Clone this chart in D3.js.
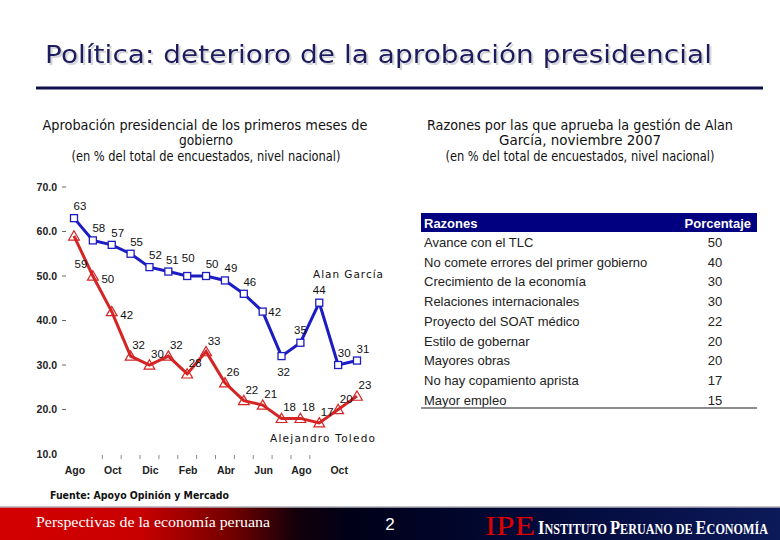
<!DOCTYPE html>
<html><head><meta charset="utf-8">
<script src="https://cdn.jsdelivr.net/npm/d3@7"></script>
<style>html,body{margin:0;padding:0;background:#fff;}svg{display:block;}</style>
</head><body>
<svg id="c" width="780" height="540"></svg>
<script>
// ---- data ----
const months = ["Ago","Sep","Oct","Nov","Dic","Ene","Feb","Mar","Abr","May","Jun","Jul","Ago","Sep","Oct","Nov"];
const monthTickLabels = ["Ago","Oct","Dic","Feb","Abr","Jun","Ago","Oct"];
const garcia = [63,58,57,55,52,51,50,50,49,46,42,32,35,44,30,31];
const toledo = [59,50,42,32,30,32,28,33,26,22,21,18,18,17,20,23];
const yTicks = [10,20,30,40,50,60,70];
const razones = ["Avance con el TLC","No comete errores del primer gobierno","Crecimiento de la economía","Relaciones internacionales","Proyecto del SOAT médico","Estilo de gobernar","Mayores obras","No hay copamiento aprista","Mayor empleo"];
const porcentaje = [50,40,30,30,22,20,20,17,15];

const svg = d3.select("#c");
const defs = svg.append("defs");
const navy = "#1a1a5e";

// title shadow filter
const f = defs.append("filter").attr("id","sh").attr("x","-5%").attr("y","-30%").attr("width","110%").attr("height","160%");
f.append("feOffset").attr("in","SourceAlpha").attr("dx",1.5).attr("dy",1.5).attr("result","o");
f.append("feFlood").attr("flood-color","#b8b8c4").attr("flood-opacity",0.6).attr("result","c");
f.append("feComposite").attr("in","c").attr("in2","o").attr("operator","in").attr("result","s");
const fm = f.append("feMerge"); fm.append("feMergeNode").attr("in","s"); fm.append("feMergeNode").attr("in","SourceGraphic");

// ---- title ----
svg.append("text").attr("x",45).attr("y",63).attr("font-family","Tahoma, 'DejaVu Sans', sans-serif")
  .attr("font-size",25).attr("fill",navy).attr("textLength",667).attr("lengthAdjust","spacingAndGlyphs")
  .attr("filter","url(#sh)").text("Política: deterioro de la aprobación presidencial");
svg.append("line").attr("x1",36).attr("x2",763).attr("y1",88).attr("y2",88).attr("stroke","#0f0f4a").attr("stroke-width",3);

// ---- subtitles ----
const narrow = "'Liberation Sans Narrow','Arial Narrow','DejaVu Sans Condensed',sans-serif";
function sub(x, y, t, w){
  const e = svg.append("text").attr("x",x).attr("y",y).attr("text-anchor","middle")
    .attr("font-family",narrow).attr("font-size",13.5).attr("fill","#111").text(t);
  if (w) e.attr("textLength",w).attr("lengthAdjust","spacingAndGlyphs");
}
sub(205,130,"Aprobación presidencial de los primeros meses de",325);
sub(206,145,"gobierno",54);
sub(206,161,"(en % del total de encuestados, nivel nacional)",269);
sub(580,130,"Razones por las que aprueba la gestión de Alan",306);
sub(580,145,"García, noviembre 2007",162);
sub(580,161,"(en % del total de encuestados, nivel nacional)",269);

// ---- line chart ----
const x = d3.scaleLinear().domain([0, months.length-1]).range([74, 357]);
const y = d3.scaleLinear().domain([10,70]).range([454,187]);
const g = svg.append("g");

yTicks.forEach(v=>{
  g.append("text").attr("x",57).attr("y",y(v)+3.5).attr("text-anchor","end")
   .attr("font-family","'Liberation Sans',Arial,sans-serif").attr("font-weight","bold").attr("font-size",10.5)
   .attr("fill","#222").text(v.toFixed(1));
  if (v>10) g.append("line").attr("x1",62).attr("x2",66).attr("y1",y(v)).attr("y2",y(v)).attr("stroke","#666").attr("stroke-width",1);
});
d3.range(1.5, 13, 1).forEach(t=>{
  g.append("line").attr("x1",x(t)).attr("x2",x(t)).attr("y1",455).attr("y2",459).attr("stroke","#888").attr("stroke-width",1);
});
monthTickLabels.forEach((m,i)=>{
  g.append("text").attr("x",x(i*2)+1).attr("y",474).attr("text-anchor","middle")
   .attr("font-family","'Liberation Sans',Arial,sans-serif").attr("font-weight","bold").attr("font-size",10.5)
   .attr("fill","#222").text(m);
});

const line = d3.line().x((d,i)=>x(i)).y(d=>y(d));
const red = "#d42424", blue = "#1c1cc4";
g.append("path").datum(toledo).attr("d",line).attr("fill","none").attr("stroke",red).attr("stroke-width",3);
g.append("path").datum(garcia).attr("d",line).attr("fill","none").attr("stroke",blue).attr("stroke-width",3);

const tri = d3.symbol().type(d3.symbolTriangle).size(50);
g.selectAll(".tri").data(toledo).join("path").attr("transform",(d,i)=>`translate(${x(i)},${y(d)+1})`)
  .attr("d",tri).attr("fill","none").attr("stroke",red).attr("stroke-width",1.2);
g.selectAll(".sq").data(garcia).join("rect").attr("x",(d,i)=>x(i)-3.5).attr("y",d=>y(d)-3.5)
  .attr("width",7).attr("height",7).attr("fill","#fff").attr("stroke",blue).attr("stroke-width",1.3);

const lblFont = "'Liberation Sans',Arial,sans-serif";
function lblOffset(series, i){
  if (series==="g"){
    if (i===11) return [2,16];
    if (i===10) return [12,0];
    if (i===12 || i===13) return [0,-13];
    if (i===5) return [4,-12];
    if (i===6) return [1,-18];
    return [6,-12];
  } else {
    if (i===0) return [7,28];
    if (i===1 || i===2) return [15,3];
    return [8,-11];
  }
}
[["g",garcia],["t",toledo]].forEach(([s,arr])=>{
  arr.forEach((v,i)=>{
    const [dx,dy] = lblOffset(s,i);
    g.append("text").attr("x",x(i)+dx).attr("y",y(v)+dy+4).attr("text-anchor","middle")
     .attr("font-family",lblFont).attr("font-size",11.5).attr("fill","#111").text(v);
  });
});
g.append("text").attr("x",313).attr("y",278).attr("font-family","'DejaVu Sans',Verdana,sans-serif")
  .attr("font-size",10.5).attr("fill","#111").attr("textLength",70).text("Alan García");
g.append("text").attr("x",270).attr("y",442).attr("font-family","'DejaVu Sans',Verdana,sans-serif")
  .attr("font-size",10.5).attr("fill","#111").attr("textLength",105).text("Alejandro Toledo");

// ---- table ----
const tx0 = 421, tx1 = 757, rowH = 19.7, row0 = 242;
svg.append("rect").attr("x",tx0).attr("y",213).attr("width",tx1-tx0).attr("height",19).attr("fill","#000080");
svg.append("text").attr("x",424).attr("y",228).attr("font-family","'Liberation Sans',Arial,sans-serif")
  .attr("font-weight","bold").attr("font-size",13).attr("fill","#fff").text("Razones");
svg.append("text").attr("x",751).attr("y",228).attr("text-anchor","end").attr("font-family","'Liberation Sans',Arial,sans-serif")
  .attr("font-weight","bold").attr("font-size",13).attr("fill","#fff").text("Porcentaje");
razones.forEach((r,i)=>{
  const yy = row0 + i*rowH + 5;
  svg.append("text").attr("x",424).attr("y",yy).attr("font-family","'Liberation Sans',Arial,sans-serif")
    .attr("font-size",13).attr("fill","#222").text(r);
  svg.append("text").attr("x",715).attr("y",yy).attr("text-anchor","middle").attr("font-family","'Liberation Sans',Arial,sans-serif")
    .attr("font-size",13).attr("fill","#222").text(porcentaje[i]);
});
svg.append("line").attr("x1",tx0).attr("x2",tx1).attr("y1",408).attr("y2",408).attr("stroke","#666").attr("stroke-width",1.5);

// ---- source ----
svg.append("text").attr("x",50).attr("y",499).attr("font-family",narrow).attr("font-weight","bold")
  .attr("font-size",11).attr("fill","#111").attr("textLength",179).attr("lengthAdjust","spacingAndGlyphs").text("Fuente: Apoyo Opinión y Mercado");

// ---- footer ----
const grad = defs.append("linearGradient").attr("id","fg").attr("x1","0").attr("x2","1").attr("y1","0").attr("y2","0");
[[0,"#d40000"],[0.18,"#c80000"],[0.3,"#700000"],[0.38,"#12000a"],[0.45,"#000018"],[0.7,"#020a3a"],[1,"#0c1a5a"]]
  .forEach(([o,c])=>grad.append("stop").attr("offset",o).attr("stop-color",c));
svg.append("rect").attr("x",0).attr("y",507).attr("width",780).attr("height",33).attr("fill","url(#fg)");
svg.append("line").attr("x1",0).attr("x2",780).attr("y1",507).attr("y2",507).attr("stroke","#b0b0b8").attr("stroke-width",1.5);
svg.append("text").attr("x",36).attr("y",527).attr("font-family","'Liberation Serif','Times New Roman',serif")
  .attr("font-size",15).attr("fill","#fff").attr("textLength",234).attr("lengthAdjust","spacingAndGlyphs").text("Perspectivas de la economía peruana");
svg.append("text").attr("x",390).attr("y",530).attr("text-anchor","middle").attr("font-family","'Liberation Sans',Arial,sans-serif")
  .attr("font-size",17).attr("fill","#fff").text("2");
svg.append("text").attr("x",485).attr("y",535).attr("font-family","'Liberation Serif','Times New Roman',serif")
  .attr("font-size",28).attr("fill","#dd0000").attr("textLength",50).attr("lengthAdjust","spacingAndGlyphs").text("IPE");
const parts = [["I",19],["NSTITUTO",14],[" ",14],["P",19],["ERUANO",14],[" ",14],["DE",14],[" ",14],["E",19],["CONOMÍA",14]];
const instG = svg.append("g");
let cx = 0;
parts.forEach(([t,s])=>{
  const el = instG.append("text").attr("x",cx).attr("y",0).attr("font-family","'Liberation Serif','Times New Roman',serif")
    .attr("font-weight","bold").attr("font-size",s).attr("fill","#fff").attr("xml:space","preserve").text(t);
  cx += t===" " ? s*0.25 : el.node().getComputedTextLength();
});
const sc = 230/cx;
instG.attr("transform",`translate(538,534) scale(${sc},1)`);
</script>
</body></html>
